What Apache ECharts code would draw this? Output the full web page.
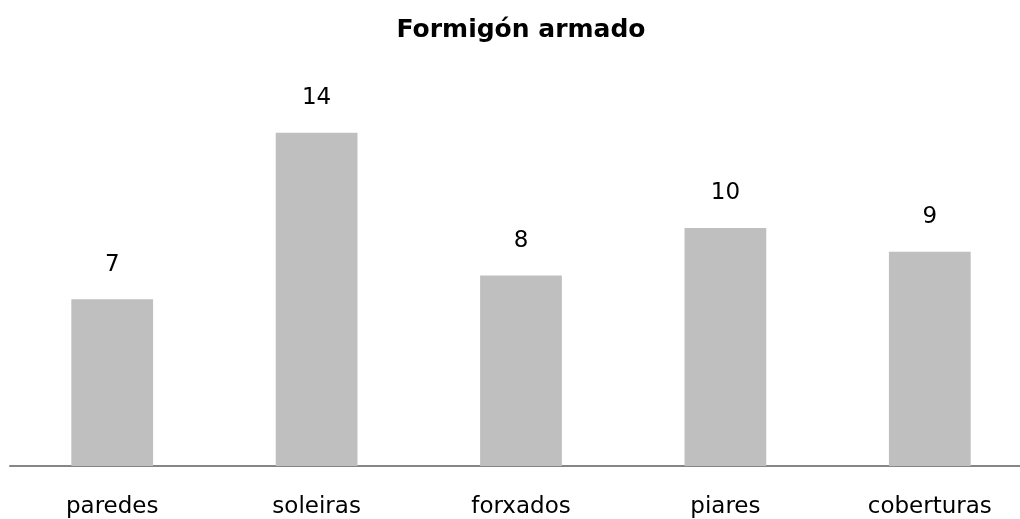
<!DOCTYPE html>
<html>
<head>
<meta charset="utf-8">
<script src="https://cdn.jsdelivr.net/npm/echarts@6/dist/echarts.min.js"></script>
<style>
  html, body { margin: 0; padding: 0; background: #fff; overflow: hidden; }
  /* the drawing surface is a little wider than the window: the last column runs past the right edge */
  #chart { width: 1042px; height: 519px; }
</style>
</head>
<body>
<div id="chart"></div>
<script>
const titleText = 'Formigón armado';
const categories = ['paredes', 'soleiras', 'forxados', 'piares', 'coberturas'];
const values = [7, 14, 8, 10, 9];

const fontFamily = '"DejaVu Sans", Verdana, sans-serif';

const chart = echarts.init(document.getElementById('chart'), null, { renderer: 'canvas' });
chart.setOption({
  animation: false,
  title: {
    text: titleText,
    left: 'center',
    top: 13,
    textStyle: { fontFamily, fontSize: 25, fontWeight: 'bold', color: '#000' }
  },
  grid: { left: 10, right: 10, top: 85, bottom: 52, containLabel: false },
  xAxis: {
    type: 'category',
    data: categories,
    axisLine: { lineStyle: { color: '#868686', width: 2 } },
    axisTick: { show: false },
    axisLabel: { fontFamily, fontSize: 23, color: '#000', margin: 30 }
  },
  yAxis: {
    type: 'value',
    min: 0,
    max: 16,
    show: false,
    splitLine: { show: false }
  },
  series: [{
    type: 'bar',
    data: values,
    barWidth: '40%',
    itemStyle: { color: '#bfbfbf' },
    label: {
      show: true,
      position: 'top',
      distance: 23,
      fontFamily,
      fontSize: 23,
      color: '#000'
    }
  }]
});
</script>
</body>
</html>
